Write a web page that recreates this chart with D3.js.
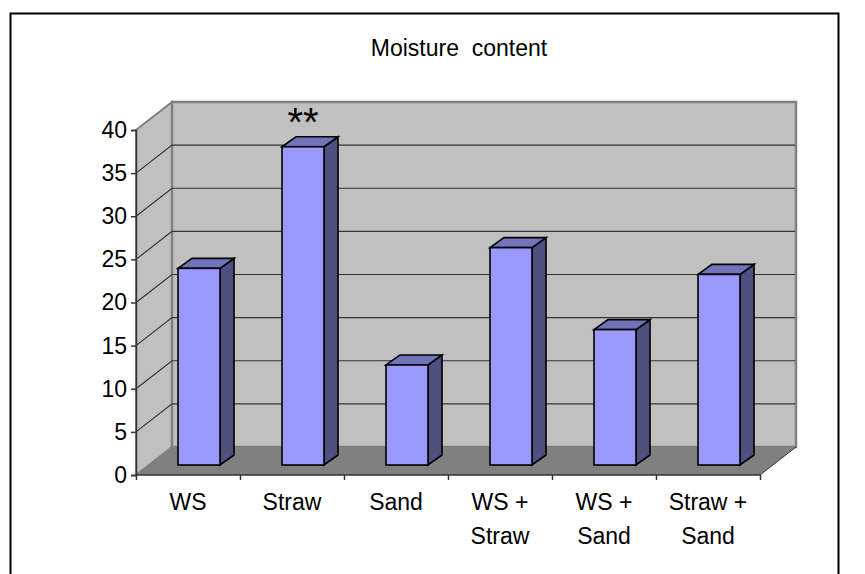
<!DOCTYPE html>
<html><head><meta charset="utf-8">
<script src="https://cdn.jsdelivr.net/npm/d3@7/dist/d3.min.js"></script>
<style>html,body{margin:0;padding:0;background:#fff}svg{display:block}text{font-family:"Liberation Sans",Arial,sans-serif;fill:#000}</style>
</head><body><svg id="c" width="865" height="574"></svg>
<script>
const categories=[["WS"],["Straw"],["Sand"],["WS +","Straw"],["WS +","Sand"],["Straw +","Sand"]];
const values=[22.8,36.9,11.6,25.2,15.7,22.1];
const yTicks=[0,5,10,15,20,25,30,35,40];
const title="Moisture  content";
const stars="**";
const starIndex=1;

const svg=d3.select("#c");
svg.append("rect").attr("x",10.5).attr("y",13.5).attr("width",828).attr("height",600).attr("fill","#fff").attr("stroke","#000").attr("stroke-width",2);

const x0=136,x1=760,y0=475,y40=130,dx=36,dy=-28,bdx=14,bdy=-10,bOff=10;
const y=d3.scaleLinear().domain([0,40]).range([y0,y40]);
const x=d3.scaleBand().domain(d3.range(categories.length)).range([x0,x1]).paddingInner(0).paddingOuter(0);
const barW=x.bandwidth()*0.404, barL=42;
const poly=p=>p.map(a=>a.join(",")).join(" ");

// walls
svg.append("polygon").attr("points",poly([[x0,y0],[x0+dx,y0+dy],[x0+dx,y40+dy],[x0,y40]])).attr("fill","#c0c0c0").attr("stroke","#808080").attr("stroke-width",2);
svg.append("polygon").attr("points",poly([[x0+dx,y0+dy],[x1+dx,y0+dy],[x1+dx,y40+dy],[x0+dx,y40+dy]])).attr("fill","#c0c0c0").attr("stroke","#808080").attr("stroke-width",2.5);
svg.append("polygon").attr("points",poly([[x0,y0],[x0+dx,y0+dy],[x1+dx,y0+dy],[x1,y0]])).attr("fill","#808080");

// gridlines
yTicks.filter(v=>v>0&&v<40).forEach(v=>{
  svg.append("path").attr("fill","none").attr("stroke","#333").attr("stroke-width",1.2)
   .attr("d",d3.line()([[x0,y(v)],[x0+dx,y(v)+dy],[x1+dx-1,y(v)+dy]]));
});

// axes
const ax=d3.axisLeft(y).tickValues(yTicks).tickSize(5).tickPadding(4);
const gy=svg.append("g").attr("transform",`translate(${x0},0)`).call(ax);
gy.selectAll("path,line").attr("stroke","#333").attr("stroke-width",1.5);
gy.selectAll("text").attr("font-size",23).attr("font-family",'"Liberation Sans"');
const bx=d3.scaleLinear().domain([0,categories.length]).range([x0,x1]);
const axb=d3.axisBottom(bx).tickValues(d3.range(categories.length+1)).tickSize(5).tickFormat("");
const gx=svg.append("g").attr("transform",`translate(0,${y0})`).call(axb);
gx.selectAll("path,line").attr("stroke","#333").attr("stroke-width",1.5);
gx.select("path").attr("d",`M${x0},0H${x1}`);
svg.append("line").attr("x1",x1).attr("y1",y0).attr("x2",x1+dx).attr("y2",y0+dy).attr("stroke","#333").attr("stroke-width",1);

// bars
const h=v=>y0-y(v);
const g=svg.append("g").selectAll("g").data(values).join("g");
const bl=(d,i)=>x(i)+barL, by=y0-bOff;
g.append("polygon").attr("points",(d,i)=>poly([[bl(d,i)+barW,by-h(d)],[bl(d,i)+barW+bdx,by-h(d)+bdy],[bl(d,i)+barW+bdx,by+bdy],[bl(d,i)+barW,by]])).attr("fill","#4f4f82");
g.append("polygon").attr("points",(d,i)=>poly([[bl(d,i),by-h(d)],[bl(d,i)+bdx,by-h(d)+bdy],[bl(d,i)+barW+bdx,by-h(d)+bdy],[bl(d,i)+barW,by-h(d)]])).attr("fill","#7373ba");
g.append("rect").attr("x",(d,i)=>bl(d,i)).attr("y",d=>by-h(d)).attr("width",barW).attr("height",d=>h(d)).attr("fill","#9999ff");
g.selectAll("polygon,rect").attr("stroke","#000").attr("stroke-width",1.6).attr("stroke-linejoin","miter");

// labels
categories.forEach((c,i)=>{
  const t=svg.append("text").attr("x",x(i)+x.bandwidth()/2+ (i==0?0:0)).attr("y",510).attr("text-anchor","middle").attr("font-size",23);
  c.forEach((s,j)=>t.append("tspan").attr("x",x(i)+x.bandwidth()/2).attr("y",510+j*34).text(s));
});
svg.append("text").attr("x",459).attr("y",56).attr("text-anchor","middle").attr("font-size",23).attr("xml:space","preserve").style("white-space","pre").text(title);
svg.append("text").attr("x",x(starIndex)+barL+barW/2).attr("y",136).attr("text-anchor","middle").attr("font-size",40).text(stars);
</script></body></html>
